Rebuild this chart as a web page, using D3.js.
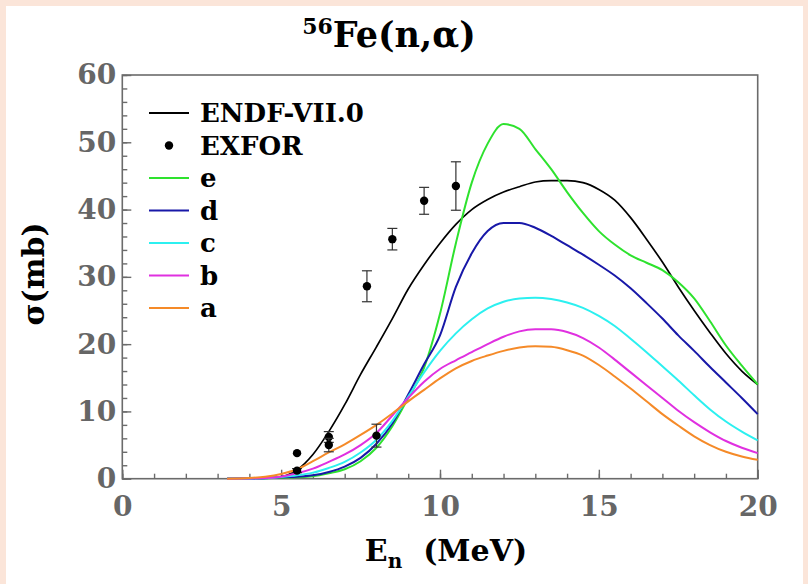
<!DOCTYPE html>
<html>
<head>
<meta charset="utf-8">
<script src="https://cdn.jsdelivr.net/npm/d3@7"></script>
<style>
  html, body { margin: 0; padding: 0; background: #fbe5d9; }
  svg { display: block; }
  text { font-family: "DejaVu Serif", serif; font-weight: bold; }
</style>
</head>
<body>
<svg id="chart" width="808" height="584"></svg>
<script>
// Energy grid (MeV) shared by all calculated curves
const energy = [3.3, 4.0, 4.5, 5.0, 5.5, 6.0, 6.5, 7.0, 7.5, 8.0, 8.5, 9.0, 9.5, 10.0,
  10.5, 11.0, 11.5, 12.0, 12.5, 13.0, 13.5, 14.0, 14.5, 15.0, 15.5, 16.0, 16.5,
  17.0, 17.5, 18.0, 18.5, 19.0, 19.5, 20.0];

// Cross sections (mb)
const endf = [0, 0.05, 0.1, 0.3, 1.3, 3.6, 7.0, 11.0, 15.5, 19.6, 23.8, 28.2, 31.8, 35.0,
  37.8, 40.0, 41.5, 42.6, 43.4, 44.1, 44.3, 44.3, 44.0, 43.0, 41.4, 38.8, 35.6,
  32.2, 28.5, 25.0, 21.7, 18.6, 16.0, 14.0];
const seriesE = [0, 0, 0.05, 0.15, 0.2, 0.35, 0.8, 1.4, 2.6, 4.6, 7.8, 12.0, 16.5, 24.5,
  35.0, 44.0, 49.8, 52.7, 52.0, 49.0, 46.0, 42.6, 39.5, 36.8, 34.8, 33.2, 32.1,
  31.0, 29.2, 26.8, 23.4, 19.8, 16.8, 14.0];
const seriesD = [0, 0, 0.05, 0.2, 0.3, 0.5, 1.0, 1.8, 3.1, 5.2, 8.2, 12.5, 17.0, 21.3,
  28.5, 33.5, 36.8, 38.0, 38.0, 37.3, 36.1, 34.7, 33.3, 31.8, 30.2, 28.3, 26.1,
  23.8, 21.3, 19.0, 16.6, 14.3, 12.0, 9.6];
const seriesC = [0, 0, 0.08, 0.25, 0.5, 0.9, 1.6, 2.5, 3.9, 5.8, 8.6, 12.2, 15.8, 19.0,
  21.6, 23.7, 25.3, 26.3, 26.8, 26.9, 26.7, 26.2, 25.4, 24.2, 22.7, 20.8, 18.8,
  16.7, 14.6, 12.4, 10.3, 8.5, 7.0, 5.7];
const seriesB = [0, 0.03, 0.1, 0.3, 0.8, 1.5, 2.5, 3.6, 5.0, 6.8, 9.4, 12.0, 14.4, 16.3,
  17.6, 18.8, 20.0, 21.1, 21.9, 22.2, 22.2, 21.8, 20.9, 19.5, 17.7, 15.8, 13.9,
  12.0, 10.1, 8.4, 6.9, 5.6, 4.6, 3.8];
const seriesA = [0, 0.1, 0.3, 0.7, 1.4, 2.6, 3.9, 5.1, 6.5, 8.0, 9.7, 11.5, 13.2, 14.9,
  16.4, 17.5, 18.3, 19.0, 19.5, 19.7, 19.6, 19.1, 18.3, 16.9, 15.2, 13.4, 11.5,
  9.6, 7.9, 6.3, 5.0, 4.0, 3.3, 2.8];

// Measured points (EXFOR)
const exforE = [5.5, 5.5, 6.5, 6.5, 7.7, 8.0, 8.5, 9.5, 10.5];
const exforSigma = [3.8, 1.2, 6.2, 5.0, 28.6, 6.4, 35.6, 41.3, 43.5];
const exforErr = [0.0, 0.3, 0.8, 1.0, 2.3, 1.7, 1.6, 2.0, 3.6];

// Legend entries
const seriesNames = ["ENDF-VII.0", "e", "d", "c", "b", "a"];
const seriesColors = ["#000000", "#2ee22e", "#1818a8", "#2cf0f0", "#e030e0", "#f58a28"];
const seriesValues = [endf, seriesE, seriesD, seriesC, seriesB, seriesA];

const xTicks = [0, 5, 10, 15, 20];
const yTicks = [0, 10, 20, 30, 40, 50, 60];

const svg = d3.select("#chart");

// white panel
svg.append("rect").attr("x", 6).attr("y", 6).attr("width", 797).attr("height", 578)
  .attr("fill", "#ffffff");

const x = d3.scaleLinear().domain([0, 20]).range([122.3, 757.7]);
const y = d3.scaleLinear().domain([0, 60]).range([478.7, 75]);

const axisColor = "#6b6b6b";

// frame
svg.append("rect")
  .attr("x", x(0)).attr("y", y(60))
  .attr("width", x(20) - x(0)).attr("height", y(0) - y(60))
  .attr("fill", "none").attr("stroke", axisColor).attr("stroke-width", 1.6);

// minor ticks
const gxMinor = svg.append("g").attr("transform", `translate(0,${y(0)})`)
  .call(d3.axisBottom(x).tickValues(d3.range(0, 21, 1)).tickSize(-5).tickFormat(""));
const gyMinor = svg.append("g").attr("transform", `translate(${x(0)},0)`)
  .call(d3.axisLeft(y).tickValues(d3.range(0, 61, 2)).tickSize(-5).tickFormat(""));

// major ticks with labels
const gx = svg.append("g").attr("transform", `translate(0,${y(0)})`)
  .call(d3.axisBottom(x).tickValues(xTicks).tickSize(-9).tickPadding(17).tickFormat(d3.format("d")));
const gy = svg.append("g").attr("transform", `translate(${x(0)},0)`)
  .call(d3.axisLeft(y).tickValues(yTicks).tickSize(-9).tickPadding(6).tickFormat(d3.format("d")));

[gxMinor, gyMinor, gx, gy].forEach(g => {
  g.select(".domain").remove();
  g.selectAll(".tick line").attr("stroke", axisColor).attr("stroke-width", 1.4);
});
[gx, gy].forEach(g => {
  g.selectAll(".tick text")
    .attr("fill", "#666666")
    .style("font-family", "'DejaVu Serif', serif")
    .style("font-weight", "bold")
    .style("font-size", "28px");
});
gx.selectAll(".tick text").attr("dy", "0.71em");
gy.selectAll(".tick text").attr("x", -6);

// calculated curves
const line = d3.line()
  .x((d, i) => x(energy[i]))
  .y(d => y(d))
  .curve(d3.curveMonotoneX);

seriesValues.forEach((vals, k) => {
  svg.append("path")
    .datum(vals)
    .attr("d", line)
    .attr("fill", "none")
    .attr("stroke", seriesColors[k])
    .attr("stroke-width", k === 0 ? 1.7 : 2)
    .attr("stroke-linejoin", "round");
});

// EXFOR points with error bars
const pts = exforE.map((e, i) => ({ e, s: exforSigma[i], err: exforErr[i] }));
const gp = svg.append("g");
pts.forEach(p => {
  if (p.err > 0) {
    const x0 = x(p.e), y1 = y(p.s + p.err), y2 = y(p.s - p.err);
    gp.append("line").attr("x1", x0).attr("x2", x0).attr("y1", y1).attr("y2", y2)
      .attr("stroke", "#333").attr("stroke-width", 1.2);
    [y1, y2].forEach(yy => gp.append("line")
      .attr("x1", x0 - 5).attr("x2", x0 + 5).attr("y1", yy).attr("y2", yy)
      .attr("stroke", "#333").attr("stroke-width", 1.2));
  }
  gp.append("circle").attr("cx", x(p.e)).attr("cy", y(p.s)).attr("r", 4.2).attr("fill", "#000");
});

// legend
const legendX = 149, legendTextX = 200, legendY0 = 113, legendStep = 32.5;
const legendRows = [
  { name: seriesNames[0], color: seriesColors[0], type: "line" },
  { name: "EXFOR", color: "#000", type: "dot" },
  ...seriesNames.slice(1).map((n, i) => ({ name: n, color: seriesColors[i + 1], type: "line" }))
];
legendRows.forEach((r, i) => {
  const yy = legendY0 + i * legendStep;
  if (r.type === "line") {
    svg.append("line").attr("x1", legendX).attr("x2", legendX + 40)
      .attr("y1", yy).attr("y2", yy).attr("stroke", r.color).attr("stroke-width", 2);
  } else {
    svg.append("circle").attr("cx", legendX + 20).attr("cy", yy).attr("r", 4.2).attr("fill", r.color);
  }
  svg.append("text").attr("x", legendTextX).attr("y", yy).attr("dy", "0.36em")
    .attr("font-size", 26).attr("fill", "#000").text(r.name);
});

// title
const title = svg.append("text").attr("x", 389).attr("y", 47)
  .attr("text-anchor", "middle").attr("font-size", 35).attr("fill", "#000");
title.append("tspan").attr("font-size", 22).attr("dy", -13).text("56");
title.append("tspan").attr("dy", 13).text("Fe(n,α)");

// x-axis title
const xt = svg.append("text").attr("x", 446).attr("y", 561)
  .attr("text-anchor", "middle").attr("font-size", 30).attr("fill", "#000");
xt.append("tspan").text("E");
xt.append("tspan").attr("font-size", 20).attr("dy", 7).text("n");
xt.append("tspan").attr("dy", -7).text("\u00a0 (MeV)");

// y-axis title
svg.append("text")
  .attr("transform", `translate(44,274) rotate(-90)`)
  .attr("text-anchor", "middle").attr("font-size", 30).attr("fill", "#000")
  .text("σ(mb)");
</script>
</body>
</html>
